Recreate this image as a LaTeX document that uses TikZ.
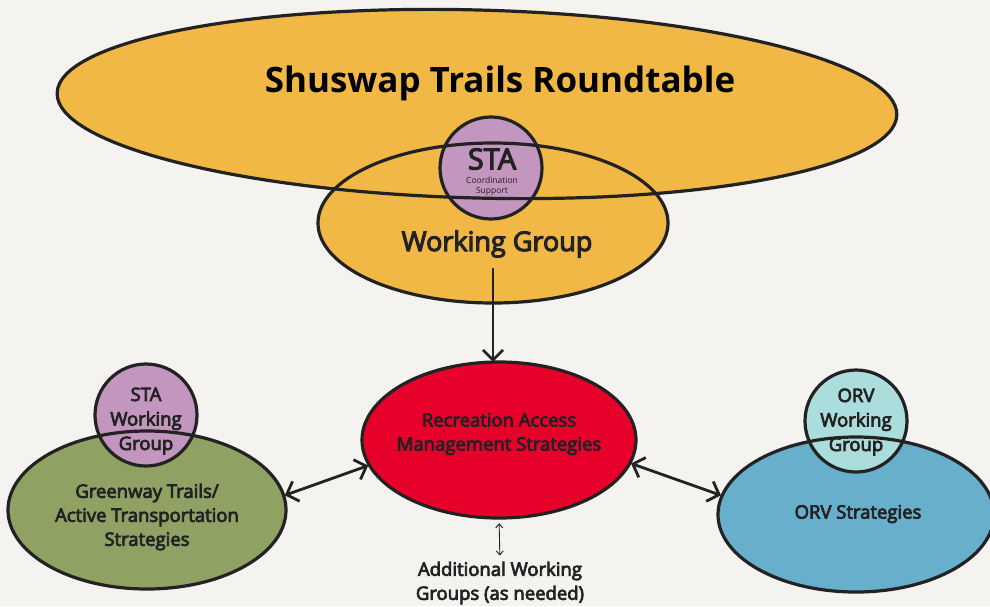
\documentclass[tikz,border=0pt]{standalone}
\usepackage{fontspec}
\setmainfont{Open Sans}
\newfontfamily\medfont{Open Sans}[FakeBold=4]
\usetikzlibrary{shapes.geometric,arrows.meta}
\definecolor{bg}{HTML}{F4F3F0}
\definecolor{ink}{HTML}{222222}
\definecolor{gold}{HTML}{F2B845}
\definecolor{mauve}{HTML}{C296BE}
\definecolor{olive}{HTML}{8FA263}
\definecolor{crimson}{HTML}{E6002A}
\definecolor{teal}{HTML}{67AFCA}
\definecolor{aqua}{HTML}{AADDDB}
\tikzset{
  blob/.style={ellipse, inner sep=0pt, draw=none},
  disc/.style={circle, inner sep=0pt, draw=none, minimum size=102pt},
  outl/.style={draw=ink, line width=3.2pt},
  lbl/.style={font=\medfont\fontsize{18.5}{24}\selectfont, align=center, text=ink, inner sep=0pt},
  bigarrow/.style={draw=ink, line width=2.8pt, {Straight Barb[length=10pt,width=21pt]}-{Straight Barb[length=10pt,width=21pt]}},
  downarrow/.style={draw=ink, line width=2.6pt, -{Straight Barb[length=10pt,width=20pt]}},
  smallarrow/.style={draw=ink, line width=0.9pt, {Straight Barb[length=4pt,width=7pt]}-{Straight Barb[length=4pt,width=7pt]}},
}
\begin{document}
\begin{tikzpicture}[x=1pt,y=-1pt]
\fill[bg] (0,0) rectangle (990,606);
\useasboundingbox (0,0) rectangle (990,606);

% fills
\node[blob, fill=gold, minimum width=840pt, minimum height=188pt, rotate=-1.5] (str) at (477,104) {};
\node[blob, fill=gold, minimum width=350pt, minimum height=160pt] (wg) at (493,223) {};
\node[disc, fill=mauve] (sta) at (491,168) {};
\node[blob, fill=crimson, minimum width=274pt, minimum height=156pt] (ram) at (499,440) {};
\node[blob, fill=olive, minimum width=278pt, minimum height=158pt] (grn) at (147,510) {};
\node[disc, fill=mauve] (stawg) at (146,415) {};
\node[blob, fill=teal, minimum width=276pt, minimum height=155pt] (orv) at (856,514.5) {};
\node[disc, fill=aqua] (orvwg) at (856,421) {};

% outlines
\draw[outl, rotate around={-1.5:(str.center)}] (str.center) ellipse [x radius=420pt, y radius=94pt];
\draw[outl] (wg.center) ellipse [x radius=175pt, y radius=80pt];
\draw[outl] (sta.center) circle [radius=51pt];
\draw[outl] (ram.center) ellipse [x radius=137pt, y radius=78pt];
\draw[outl] (grn.center) ellipse [x radius=139pt, y radius=79pt];
\draw[outl] (stawg.center) circle [radius=51pt];
\draw[outl] (orv.center) ellipse [x radius=138pt, y radius=77.5pt];
\draw[outl] (orvwg.center) circle [radius=51pt];

% texts
\node[text=black, font=\bfseries\fontsize{35}{40}\selectfont] (strt) at (500,83) {Shuswap Trails Roundtable};
\node[text=ink, font=\medfont\fontsize{29}{32}\selectfont] (stat) at (492,159) {STA};
\node[text=ink, font=\fontsize{8.5}{10}\selectfont] (coord) at (492,180) {Coordination};
\node[text=ink, font=\fontsize{8.5}{10}\selectfont] (supp) at (492,191) {Support};
\node[text=ink, font=\medfont\fontsize{27}{30}\selectfont] (wgt) at (497,244) {Working Group};
\node[lbl] (ramt) at (499,434) {Recreation Access\\Management Strategies};
\node[lbl] (grnt) at (147,517) {Greenway Trails/\\Active Transportation\\Strategies};
\node[lbl, font=\medfont\fontsize{18.5}{24.5}\selectfont] (stawgt) at (146,421) {STA\\Working\\Group};
\node[lbl, font=\medfont\fontsize{18.5}{24.5}\selectfont] (orvwgt) at (856,422) {ORV\\Working\\Group};
\node[lbl] (orvt) at (858,514) {ORV Strategies};
\node[lbl] (add) at (500,583) {Additional Working\\Groups (as needed)};

% connectors
\draw[downarrow, shorten <=7pt] (wg.center |- wgt.south) -- (wg.center |- ram.north);
\draw[bigarrow, shorten <=1pt, shorten >=1pt] (grn.6) -- (ram.191);
\draw[bigarrow, shorten <=1pt, shorten >=1pt] (ram.350) -- (orv.172);
\draw[smallarrow, shorten <=5pt, shorten >=6pt] (ram.south) -- (add.north);
\end{tikzpicture}
\end{document}
